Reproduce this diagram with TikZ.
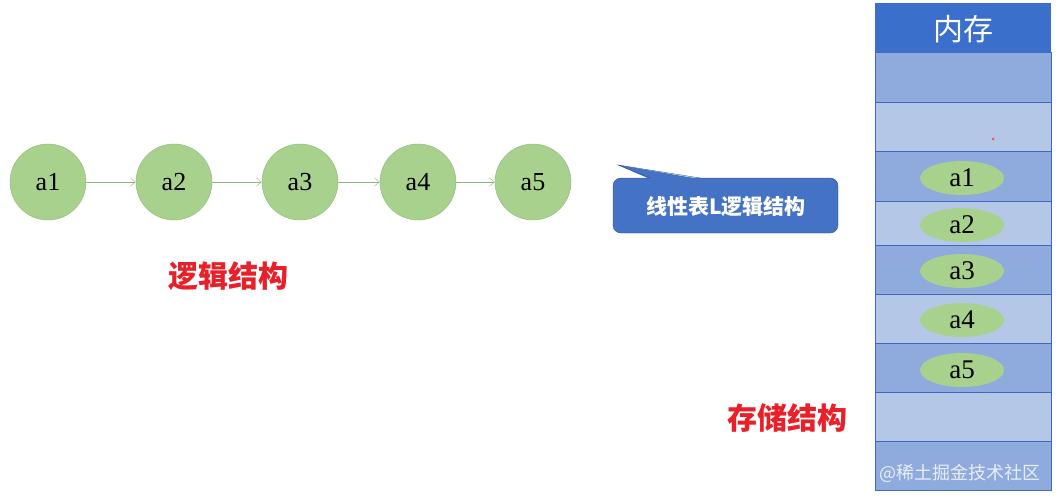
\documentclass[tikz,border=0pt]{standalone}
\usepackage{fontspec}
\newfontfamily\cjk{Noto Sans CJK SC}
\setmainfont{Liberation Serif}
\usetikzlibrary{shapes.geometric,arrows.meta}
\definecolor{cfill}{HTML}{A9D18E}
\definecolor{cline}{HTML}{8CB878}
\definecolor{darkrow}{HTML}{8FAADC}
\definecolor{lightrow}{HTML}{B4C7E7}
\definecolor{rowline}{HTML}{3D6AC0}
\definecolor{hdr}{HTML}{3A6FCC}
\definecolor{callout}{HTML}{4472C4}
\definecolor{lblred}{HTML}{E8202A}
\tikzset{
  circ/.style={circle,draw=cline,fill=cfill,minimum size=76pt,inner sep=0pt,font=\fontsize{26}{28}\selectfont},
  link/.style={draw=cline,-{Straight Barb[length=5pt,width=8pt]},thin},
  memell/.style={ellipse,fill=cfill,minimum width=84pt,minimum height=34pt,inner sep=0pt,font=\fontsize{27}{28}\selectfont},
  redlbl/.style={text=lblred,font=\cjk\bfseries\fontsize{30}{32}\selectfont},
}
\begin{document}
\begin{tikzpicture}[x=1pt,y=1pt]
\useasboundingbox (0,0) rectangle (1056,-501);
\fill[white] (0,0) rectangle (1056,-501);
% logical
\node[circ] (a1) at (48,-182) {a1};
\node[circ] (a2) at (174,-182) {a2};
\node[circ] (a3) at (300,-182) {a3};
\node[circ] (a4) at (418,-182) {a4};
\node[circ] (a5) at (533,-182) {a5};
\draw[link] (a1) -- (a2);
\draw[link] (a2) -- (a3);
\draw[link] (a3) -- (a4);
\draw[link] (a4) -- (a5);
\node[redlbl] (lg) at (228,-276) {逻辑结构};
\node[redlbl] (st) at (787,-418) {存储结构};
% callout
\fill[callout,draw=callout!70!black,rounded corners=8pt] (613,-178) rectangle (838,-233);
\fill[callout] (618,-165) -- (700,-179) -- (650,-179) -- cycle;
\draw[callout!70!black] (650,-178) -- (618,-165) -- (700,-178);
\node[text=white,font=\cjk\bfseries\fontsize{21}{23}\selectfont] (co) at (726,-207) {线性表L逻辑结构};
% memory
\fill[hdr] (875,-3) rectangle (1051,-52);
\node[text=white,font=\cjk\fontsize{30}{32}\selectfont] (hd) at (963,-29) {内存};
\foreach \t/\b/\c in {52/102/darkrow,102/151/lightrow,151/201/darkrow,201/245/lightrow,245/294/darkrow,294/343/lightrow,343/392/darkrow,392/441/lightrow,441/490/darkrow}
  \filldraw[fill=\c,draw=rowline,line width=0.6pt] (875,-\t) rectangle (1051,-\b);
\node[memell] (m1) at (962,-178) {a1};
\node[memell] (m2) at (962,-225) {a2};
\node[memell] (m3) at (962,-271) {a3};
\node[memell] (m4) at (962,-320) {a4};
\node[memell] (m5) at (962,-370) {a5};
\fill[red!70] (993,-139) circle (1.5pt);
\node[text=white,opacity=0.8,font=\cjk\fontsize{18}{20}\selectfont] (wm) at (960,-473) {@稀土掘金技术社区};
\end{tikzpicture}
\end{document}
